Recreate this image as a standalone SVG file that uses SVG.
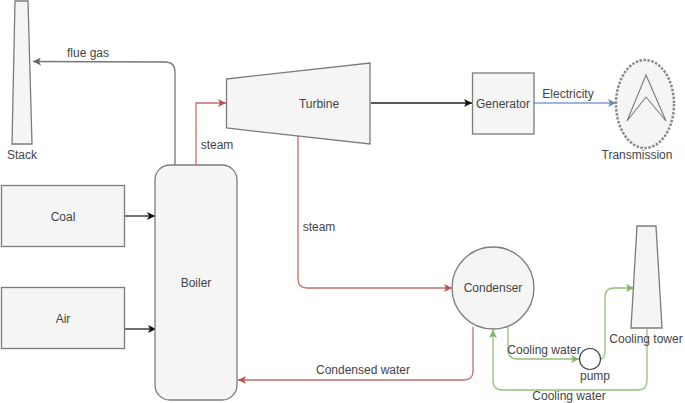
<svg xmlns="http://www.w3.org/2000/svg" width="685" height="403" viewBox="0 0 685 403">
<style>
text{font-family:"Liberation Sans",Arial,sans-serif;font-size:12px;fill:#444;text-anchor:middle}
.n{fill:#f5f5f5;stroke:#7c7c7c;stroke-width:1.3}
.c{fill:none;stroke-width:1.3}
.k{stroke:#222}.g{stroke:#777}.r{stroke:#c4706c}.gn{stroke:#93c07a}.b{stroke:#7f9fce}
</style>
<defs>
<marker id="mk" markerWidth="10" markerHeight="8" refX="8" refY="4" orient="auto" markerUnits="userSpaceOnUse"><path d="M0 0L8 4L0 8L2 4Z" fill="#111"/></marker>
<marker id="mg" markerWidth="10" markerHeight="8" refX="8" refY="4" orient="auto" markerUnits="userSpaceOnUse"><path d="M0 0L8 4L0 8L2 4Z" fill="#666"/></marker>
<marker id="mr" markerWidth="10" markerHeight="8" refX="8" refY="4" orient="auto" markerUnits="userSpaceOnUse"><path d="M0 0L8 4L0 8L2 4Z" fill="#b85450"/></marker>
<marker id="mgn" markerWidth="10" markerHeight="8" refX="8" refY="4" orient="auto" markerUnits="userSpaceOnUse"><path d="M0 0L8 4L0 8L2 4Z" fill="#82b366"/></marker>
<marker id="mb" markerWidth="10" markerHeight="8" refX="8" refY="4" orient="auto" markerUnits="userSpaceOnUse"><path d="M0 0L8 4L0 8L2 4Z" fill="#6c8ebf"/></marker>
</defs>
<g id="connectors">
<path class="c g" marker-end="url(#mg)" d="M175 165V72Q175 62 165 62L33 61.500"/>
<path class="c r" marker-end="url(#mr)" d="M196 165V103H226"/>
<path class="c k" marker-end="url(#mk)" d="M125 216H155"/>
<path class="c k" marker-end="url(#mk)" d="M125 329H156"/>
<path class="c k" marker-end="url(#mk)" d="M371 103H472"/>
<path class="c b" marker-end="url(#mb)" d="M534 103H616"/>
<path class="c r" marker-end="url(#mr)" d="M298 136V279Q298 288 307 288H452"/>
<path class="c r" marker-end="url(#mr)" d="M473 327V371Q473 380 464 380H238"/>
<path class="c gn" marker-end="url(#mgn)" d="M508 327V350Q508 359 517 359H579"/>
<path class="c gn" marker-end="url(#mgn)" d="M601 359Q605 359 605 350V297Q605 288 614 288H634"/>
<path class="c gn" marker-end="url(#mgn)" d="M647 329V381Q647 390 638 390H502Q493 390 493 381V330"/>
</g>
<g id="stack"><path class="n" d="M15 1H28L32 144H12Z"/><text x="22" y="159">Stack</text></g>
<g id="coal"><rect class="n" x="1.500" y="185.500" width="123" height="61"/><text x="63" y="221">Coal</text></g>
<g id="air"><rect class="n" x="1.500" y="287.500" width="123" height="61"/><text x="63" y="323">Air</text></g>
<g id="boiler"><rect class="n" x="155" y="165" width="82" height="235" rx="15"/><text x="196" y="287">Boiler</text></g>
<g id="turbine"><path class="n" d="M226.500 79L370 63V144L226.500 128Z"/><text x="319" y="108">Turbine</text></g>
<g id="generator"><rect class="n" x="472.500" y="73" width="61.500" height="61"/><text x="503" y="108">Generator</text></g>
<g id="transmission"><ellipse cx="645" cy="104" rx="29" ry="44" fill="#f5f5f5" stroke="#8a8a8a" stroke-width="2.500" stroke-dasharray="2.500 1.500"/><path d="M627 121L646 75L666 121L646 97Z" fill="none" stroke="#7c7c7c" stroke-width="1.100"/><text x="637" y="159">Transmission</text></g>
<g id="condenser"><circle class="n" cx="493" cy="288" r="41"/><text x="493" y="292">Condenser</text></g>
<g id="pump"><circle cx="590" cy="359" r="10.500" fill="#fff" stroke="#444" stroke-width="1.200"/><text x="595" y="380">pump</text></g>
<g id="cooling-tower"><path class="n" d="M637 226H656L662 328H631Z"/><text x="646" y="343">Cooling tower</text></g>
<g id="labels">
<text x="88" y="57">flue gas</text>
<text x="217" y="149">steam</text>
<text x="319" y="231">steam</text>
<text x="568" y="98">Electricity</text>
<text x="363" y="374">Condensed water</text>
<text x="544" y="354">Cooling water</text>
<text x="569" y="400">Cooling water</text>
</g>
</svg>
